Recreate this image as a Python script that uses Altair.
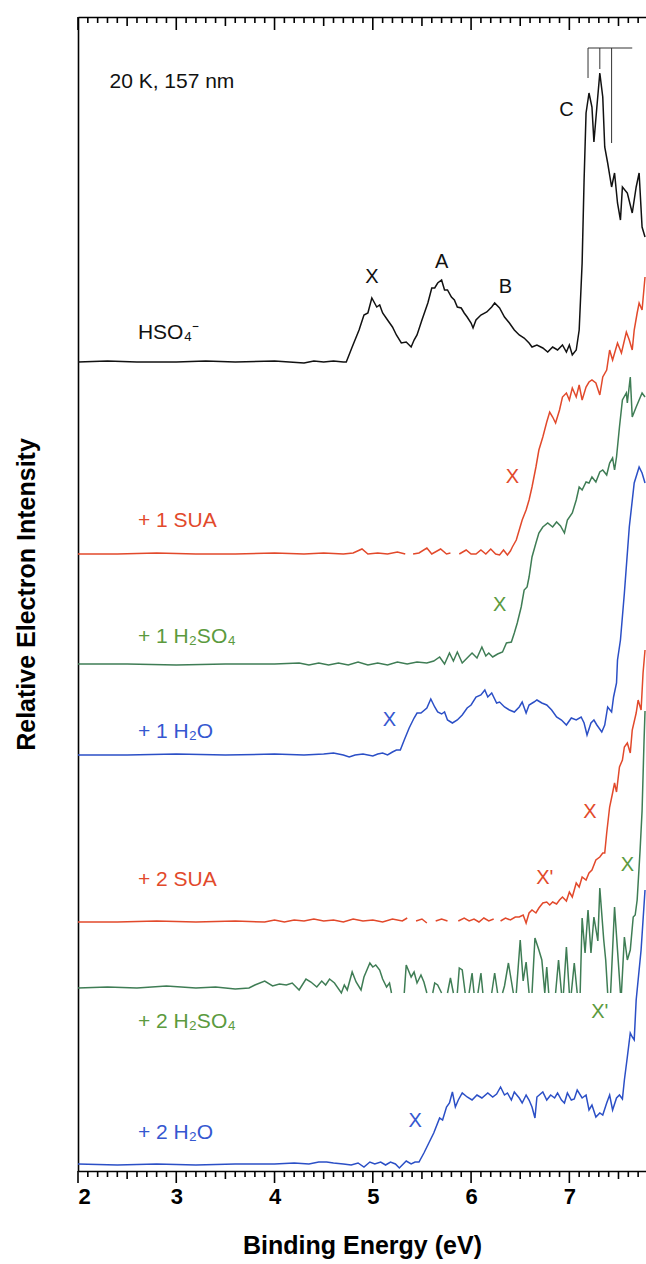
import altair as alt
import pandas as pd

# ---------------- data (Binding energy in eV, relative intensity) -------------
hso4 = [(2.00,809),(2.30,810),(2.60,809),(3.00,809),(3.30,810),(3.60,809),(4.00,810),(4.30,808),(4.40,810),(4.50,809),(4.60,810),(4.70,809),
        (4.73,809),(4.79,824),(4.86,841),(4.91,856),(4.95,858),(4.99,873),(5.04,864),(5.07,866),(5.10,858),(5.15,851),(5.20,844),(5.24,836),
        (5.29,828),(5.34,829),(5.39,824),(5.42,831),(5.45,836),(5.50,851),(5.56,868),(5.60,883),(5.63,883),(5.66,888),(5.70,891),(5.73,881),
        (5.76,881),(5.80,874),(5.83,871),(5.86,864),(5.90,863),(5.93,858),(5.96,854),(6.00,848),(6.02,843),(6.05,851),(6.10,856),(6.16,859),
        (6.21,864),(6.24,868),(6.29,863),(6.34,854),(6.39,848),(6.44,841),(6.49,836),(6.54,833),(6.59,828),(6.62,824),(6.67,826),(6.73,823),
        (6.78,819),(6.83,824),(6.88,821),(6.93,826),(6.97,819),(7.00,826),(7.03,816),(7.07,821),(7.10,841),(7.13,908),(7.15,991),(7.17,1058),
        (7.20,1078),(7.23,1064),(7.25,1029),(7.28,1064),(7.31,1098),(7.34,1074),(7.36,1024),(7.39,1008),(7.43,984),(7.46,998),(7.49,968),
        (7.52,951),(7.54,984),(7.59,978),(7.64,958),(7.68,984),(7.71,998),(7.74,944),(7.77,934)]

sua1 = [(2.00,617),(2.40,617),(2.80,618),(3.20,617),(3.60,617),(4.00,618),(4.30,617),(4.50,618),(4.70,617),(4.80,618),(4.89,622),(4.95,617),
        (5.05,618),(5.15,617),(5.25,619),(5.33,617),(5.37,None),(5.41,617),(5.47,618),(5.55,623),(5.60,617),(5.69,622),(5.75,617),(5.79,618),
        (5.83,None),(5.88,617),(5.95,621),(6.00,617),(6.05,617),(6.10,621),(6.15,617),(6.20,622),(6.25,617),(6.29,616),(6.33,621),(6.37,616),
        (6.40,620),(6.42,624),(6.46,631),(6.49,641),(6.52,651),(6.56,661),(6.59,671),(6.62,684),(6.66,704),(6.69,721),(6.73,734),(6.77,749),
        (6.80,759),(6.83,754),(6.86,748),(6.90,761),(6.93,774),(6.97,778),(7.00,771),(7.03,783),(7.07,774),(7.10,786),(7.13,771),(7.17,784),
        (7.20,789),(7.23,791),(7.27,788),(7.31,776),(7.34,794),(7.38,801),(7.41,821),(7.44,811),(7.49,828),(7.53,818),(7.58,839),(7.61,831),
        (7.64,821),(7.66,841),(7.69,858),(7.71,868),(7.74,861),(7.77,894)]

h2so4_1 = [(2.00,507),(2.50,507),(3.00,506),(3.50,507),(4.00,507),(4.25,508),(4.35,506),(4.45,508),(4.55,506),(4.65,508),(4.75,506),(4.85,509),
           (4.95,506),(5.05,508),(5.15,506),(5.25,509),(5.35,507),(5.45,509),(5.55,508),(5.62,510),(5.68,514),(5.73,507),(5.78,518),(5.82,510),
           (5.86,519),(5.91,508),(5.96,513),(6.01,518),(6.06,513),(6.11,524),(6.15,515),(6.18,518),(6.22,514),(6.27,517),(6.32,519),(6.36,528),
           (6.41,529),(6.44,538),(6.47,548),(6.51,564),(6.54,581),(6.57,584),(6.59,594),(6.62,614),(6.66,628),(6.69,638),(6.73,644),(6.78,648),
           (6.83,644),(6.87,649),(6.91,645),(6.95,638),(6.98,651),(7.03,658),(7.07,671),(7.10,684),(7.13,681),(7.17,689),(7.20,688),(7.23,694),
           (7.27,689),(7.31,699),(7.34,701),(7.38,696),(7.41,708),(7.44,713),(7.46,701),(7.48,714),(7.51,744),(7.54,771),(7.58,778),(7.59,768),
           (7.62,794),(7.64,754),(7.68,764),(7.71,771),(7.74,778),(7.77,774)]

h2o_1 = [(2.00,416),(2.50,416),(3.00,417),(3.50,416),(4.00,417),(4.30,416),(4.50,417),(4.60,418),(4.70,416),(4.76,414),(4.82,416),(4.90,417),
         (5.00,415),(5.05,417),(5.10,418),(5.15,416),(5.20,419),(5.24,421),(5.28,421),(5.32,431),(5.37,443),(5.42,453),(5.45,458),(5.49,458),
         (5.55,463),(5.59,472),(5.63,464),(5.66,459),(5.70,457),(5.73,459),(5.76,451),(5.81,448),(5.86,451),(5.91,456),(5.96,463),(6.00,466),
         (6.05,474),(6.10,476),(6.14,481),(6.17,474),(6.21,478),(6.26,468),(6.29,469),(6.34,464),(6.39,461),(6.44,459),(6.49,464),(6.52,469),
         (6.56,458),(6.59,466),(6.64,469),(6.67,471),(6.72,468),(6.77,466),(6.82,461),(6.87,454),(6.92,451),(6.97,446),(7.02,453),(7.07,451),
         (7.12,454),(7.15,448),(7.18,436),(7.22,448),(7.25,451),(7.28,446),(7.33,439),(7.36,446),(7.39,464),(7.43,459),(7.45,474),(7.48,488),
         (7.49,511),(7.52,531),(7.56,578),(7.61,644),(7.66,688),(7.71,704),(7.74,698),(7.77,688)]

sua2 = [(2.00,249),(2.40,249),(2.80,250),(3.20,249),(3.60,250),(3.90,249),(4.00,251),(4.10,249),(4.20,251),(4.30,250),(4.40,252),(4.50,250),
        (4.60,251),(4.70,249),(4.80,252),(4.90,250),(5.00,251),(5.10,249),(5.20,252),(5.30,250),(5.35,253),(5.40,None),(5.44,250),(5.50,252),
        (5.55,248),(5.60,None),(5.64,250),(5.70,252),(5.76,250),(5.82,None),(5.87,250),(5.93,253),(5.98,250),(6.03,252),(6.08,249),(6.13,253),
        (6.18,250),(6.23,252),(6.27,None),(6.30,250),(6.35,253),(6.40,251),(6.45,254),(6.49,254),(6.53,256),(6.56,248),(6.59,258),(6.62,261),
        (6.66,258),(6.69,263),(6.73,268),(6.77,269),(6.80,266),(6.83,269),(6.87,267),(6.90,271),(6.93,274),(6.97,270),(7.00,279),(7.03,274),
        (7.07,288),(7.10,284),(7.13,294),(7.17,291),(7.20,298),(7.23,301),(7.27,311),(7.31,314),(7.34,318),(7.36,318),(7.38,338),(7.41,364),
        (7.44,378),(7.46,388),(7.48,379),(7.51,404),(7.54,411),(7.56,424),(7.59,428),(7.62,418),(7.64,441),(7.68,458),(7.70,471),(7.73,461),
        (7.75,498),(7.77,521)]

h2so4_2 = [(2.00,183),(2.30,184),(2.60,183),(2.90,185),(3.20,183),(3.40,184),(3.60,182),(3.74,183),(3.80,186),(3.90,190),(3.98,185),(4.05,187),
           (4.12,186),(4.18,188),(4.25,181),(4.32,192),(4.37,189),(4.43,184),(4.48,190),(4.52,186),(4.56,192),(4.61,188),(4.68,178),(4.71,186),
           (4.74,181),(4.79,199),(4.83,189),(4.88,181),(4.91,194),(4.97,208),(5.00,204),(5.03,206),(5.07,201),(5.10,192),(5.14,184),(5.17,188),
           (5.19,178),(5.25,None),
           (5.32,178),(5.34,206),(5.39,194),(5.42,199),(5.45,188),(5.49,196),(5.52,189),(5.55,178),(5.58,None),
           (5.61,178),(5.63,188),(5.66,186),(5.70,178),(5.73,None),
           (5.76,178),(5.79,193),(5.82,178),(5.84,None),
           (5.86,178),(5.88,203),(5.91,201),(5.94,178),(5.96,None),
           (5.98,178),(6.01,198),(6.03,178),(6.05,None),
           (6.07,178),(6.10,198),(6.12,178),(6.16,None),
           (6.21,178),(6.24,198),(6.27,178),(6.30,None),
           (6.32,178),(6.34,185),(6.38,208),(6.40,196),(6.43,178),(6.45,None),
           (6.46,178),(6.50,231),(6.53,190),(6.56,209),(6.59,178),(6.61,None),
           (6.62,178),(6.65,233),(6.69,221),(6.72,211),(6.75,178),(6.77,204),(6.79,178),(6.82,None),
           (6.86,178),(6.89,211),(6.92,178),(6.93,None),
           (6.94,178),(6.97,224),(7.00,178),(7.01,None),
           (7.02,178),(7.05,208),(7.08,178),(7.10,None),
           (7.11,178),(7.13,253),(7.16,218),(7.19,261),(7.22,218),(7.25,254),(7.29,230),(7.31,283),(7.35,231),(7.37,211),(7.39,178),(7.41,None),
           (7.42,178),(7.46,264),(7.49,221),(7.52,178),(7.525,None),
           (7.53,178),(7.56,234),(7.59,211),(7.62,221),(7.65,254),(7.67,256),(7.69,271),(7.72,321),(7.74,360),(7.76,430),(7.77,460)]

h2o_2 = [(2.00,7),(2.40,6),(2.80,7),(3.20,6),(3.60,7),(4.00,7),(4.20,8),(4.35,7),(4.45,9),(4.53,9),(4.60,8),(4.70,7),(4.78,6),(4.85,8),
         (4.91,4),(4.97,9),(5.02,7),(5.08,9),(5.13,6),(5.18,9),(5.23,7),(5.27,3),(5.34,10),(5.39,7),(5.43,9),(5.47,9),(5.52,18),(5.57,28),
         (5.62,38),(5.68,53),(5.71,51),(5.75,64),(5.78,68),(5.81,79),(5.84,64),(5.87,71),(5.91,78),(5.96,74),(6.01,71),(6.06,76),(6.11,73),
         (6.17,78),(6.22,74),(6.26,77),(6.30,84),(6.34,76),(6.37,78),(6.41,71),(6.44,79),(6.49,73),(6.52,68),(6.56,76),(6.59,71),(6.62,64),
         (6.65,53),(6.67,74),(6.73,79),(6.77,71),(6.81,76),(6.85,73),(6.88,78),(6.92,71),(6.95,68),(6.98,78),(7.02,71),(7.05,72),(7.08,81),
         (7.13,73),(7.17,76),(7.20,61),(7.23,66),(7.27,54),(7.31,58),(7.34,56),(7.38,68),(7.41,76),(7.44,61),(7.48,73),(7.51,76),(7.54,72),
         (7.56,91),(7.59,114),(7.62,138),(7.64,134),(7.66,131),(7.68,171),(7.73,221),(7.77,281)]

series_names = ["HSO4", "SUA1", "H2SO4_1", "H2O_1", "SUA2", "H2SO4_2", "H2O_2"]
series_data = [hso4, sua1, h2so4_1, h2o_1, sua2, h2so4_2, h2o_2]
series_colors = ["#111111", "#E2492B", "#3F7D55", "#2B4FC6", "#E2492B", "#3F7D55", "#2B4FC6"]

# vibrational progression markers on band C
prog_E = [7.19, 7.31, 7.43]
prog_bottom = [1093, 1102, 1028]
prog_top = 1123
prog_end = 7.64

# labels
name_text = ["HSO\u2084\u207b", "+ 1 SUA", "+ 1 H\u2082SO\u2084", "+ 1 H\u2082O", "+ 2 SUA", "+ 2 H\u2082SO\u2084", "+ 2 H\u2082O"]
name_E = [2.61, 2.61, 2.61, 2.61, 2.61, 2.61, 2.61]
name_I = [838, 650, 534, 439, 291, 149, 38]
name_grp = ["k", "r", "g", "b", "r", "g", "b"]

peak_text = ["X", "A", "B", "C", "X", "X", "X", "X", "X'", "X", "X'", "X"]
peak_E = [4.99, 5.70, 6.35, 6.97, 6.42, 6.29, 5.17, 7.21, 6.75, 7.59, 7.31, 5.43]
peak_I = [894, 909, 884, 1061, 694, 566, 451, 359, 293, 306, 159, 50]
peak_grp = ["k", "k", "k", "k", "r", "g", "b", "r", "r", "g", "g", "b"]

cond_text = ["20 K, 157 nm"]
cond_E = [2.32]
cond_I = [1089]

major_ticks = [2.0, 3.0, 4.0, 5.0, 6.0, 7.0]
mid_ticks = [2.5, 3.5, 4.5, 5.5, 6.5, 7.5]
minor_ticks = [round(2 + 0.1 * k, 2) for k in range(1, 58) if k % 5 != 0]

# tick lengths expressed in intensity units (1 unit = 1 px on this plot)
tick_len = {"major": 12, "mid": 8, "minor": 6}
tick_len_top = {"major": 13, "mid": 9, "minor": 6}

# ---------------- build tables ----------------
rows = []
for name, pts in zip(series_names, series_data):
    seg = 0
    for e, v in pts:
        if v is None:
            seg += 1
            continue
        rows.append({"series": name, "seg": f"{name}-{seg}", "E": e, "I": v})
df = pd.DataFrame(rows)

YMAX = 1154
trow = []
for lvl, vals in (("major", major_ticks), ("mid", mid_ticks), ("minor", minor_ticks)):
    for t in vals:
        trow.append({"E": t, "I": 0.0, "I2": -float(tick_len[lvl])})
        trow.append({"E": t, "I": float(YMAX), "I2": float(YMAX - tick_len_top[lvl])})
ticks_df = pd.DataFrame(trow)

names_df = pd.DataFrame({"text": name_text, "E": name_E, "I": name_I, "grp": name_grp})
peaks_df = pd.DataFrame({"text": peak_text, "E": peak_E, "I": peak_I, "grp": peak_grp})
cond_df = pd.DataFrame({"text": cond_text, "E": cond_E, "I": cond_I})
prog_df = pd.DataFrame({"E": prog_E, "I": prog_bottom, "I2": [prog_top] * len(prog_E)})
bar_df = pd.DataFrame({"E": [prog_E[0]], "E2": [prog_end], "I": [prog_top]})
tick_df = pd.DataFrame({"t": [2.0, 7.78]})

FONT = "Liberation Sans"
W, H = 568, 1154
xs = alt.Scale(domain=[2, 7.78], nice=False, zero=False)
ys = alt.Scale(domain=[0, YMAX], nice=False, zero=False)
text_scale = alt.Scale(domain=["k", "r", "g", "b"], range=["#111111", "#E2492B", "#5B9A3E", "#3557D0"])

x_major = alt.Axis(orient="bottom", values=[2, 3, 4, 5, 6, 7], ticks=False, domain=True, domainColor="black",
                   domainWidth=1.6, grid=False, format="d",
                   labelFont=FONT, labelFontSize=22, labelFontWeight="bold", labelColor="black", labelPadding=15,
                   title="Binding Energy (eV)", titleFont=FONT, titleFontSize=25, titleFontWeight="bold",
                   titleColor="black", titlePadding=26)
y_axis = alt.Axis(orient="left", domain=True, domainColor="black", domainWidth=1.6, ticks=False, labels=False,
                  grid=False, title="Relative Electron Intensity", titleFont=FONT, titleFontSize=25,
                  titleFontWeight="bold", titleColor="black", titlePadding=39)

lines = alt.Chart(df).mark_line(strokeWidth=1.5).encode(
    x=alt.X("E:Q", scale=xs, axis=x_major),
    y=alt.Y("I:Q", scale=ys, axis=y_axis),
    color=alt.Color("series:N", scale=alt.Scale(domain=series_names, range=series_colors), legend=None),
    detail="seg:N",
)

tick_marks = alt.Chart(ticks_df).mark_rule(color="#000000", strokeWidth=1.6).encode(
    x=alt.X("E:Q", scale=xs, axis=None),
    y=alt.Y("I:Q", scale=ys, axis=None),
    y2="I2:Q",
)

prog_v = alt.Chart(prog_df).mark_rule(color="#333333", strokeWidth=1).encode(
    x=alt.X("E:Q", scale=xs, axis=None),
    y=alt.Y("I:Q", scale=ys, axis=None),
    y2="I2:Q",
)
prog_h = alt.Chart(bar_df).mark_rule(color="#333333", strokeWidth=1).encode(
    x=alt.X("E:Q", scale=xs, axis=None),
    x2="E2:Q",
    y=alt.Y("I:Q", scale=ys, axis=None),
)

names = alt.Chart(names_df).mark_text(align="left", baseline="middle", font=FONT, fontSize=21).encode(
    x=alt.X("E:Q", scale=xs, axis=None),
    y=alt.Y("I:Q", scale=ys, axis=None),
    text="text:N",
    color=alt.Color("grp:N", scale=text_scale, legend=None),
)
peaks = alt.Chart(peaks_df).mark_text(align="center", baseline="middle", font=FONT, fontSize=20).encode(
    x=alt.X("E:Q", scale=xs, axis=None),
    y=alt.Y("I:Q", scale=ys, axis=None),
    text="text:N",
    color=alt.Color("grp:N", scale=text_scale, legend=None),
)
cond = alt.Chart(cond_df).mark_text(align="left", baseline="middle", font=FONT, fontSize=21, color="#111111").encode(
    x=alt.X("E:Q", scale=xs, axis=None),
    y=alt.Y("I:Q", scale=ys, axis=None),
    text="text:N",
)

# top frame line
top_line = alt.Chart(tick_df).mark_point(opacity=0).encode(
    x=alt.X("t:Q", scale=xs, axis=alt.Axis(orient="top", ticks=False, domain=True, domainColor="black",
                                            domainWidth=1.6, grid=False, labels=False, title=None))
)

chart = alt.layer(
    lines, prog_v, prog_h, names, peaks, cond, top_line, tick_marks
).resolve_axis(
    x="independent", y="independent"
).resolve_scale(
    color="independent"
).properties(
    width=W, height=H,
    autosize=alt.AutoSizeParams(type="none"),
    padding={"left": 78, "top": 17, "right": 0, "bottom": 93},
    background="white",
).configure_view(stroke=None)

chart.save("out.html", embed_options={"renderer": "svg", "actions": False})
